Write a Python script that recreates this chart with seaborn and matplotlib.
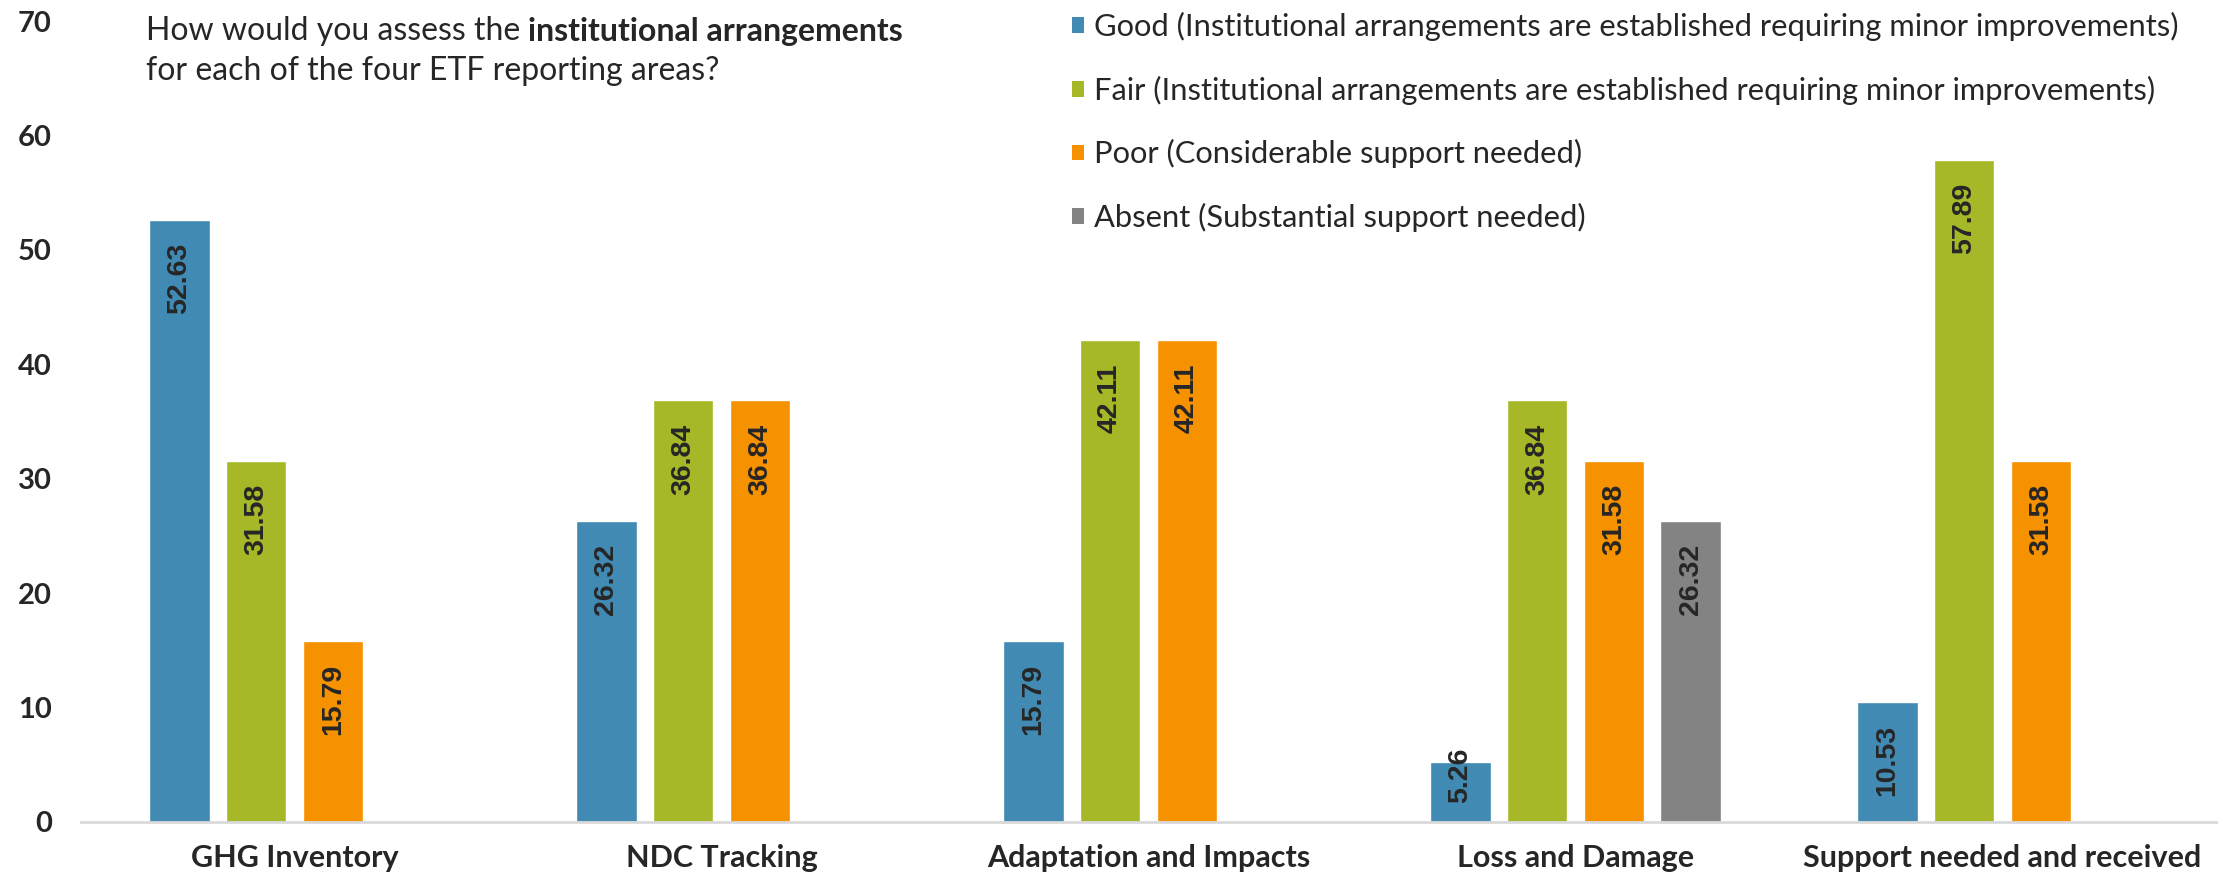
import matplotlib
matplotlib.use('Agg')
import matplotlib.pyplot as plt
import seaborn as sns
import pandas as pd
from matplotlib.patches import Patch

areas = ['GHG Inventory', 'NDC Tracking', 'Adaptation and Impacts',
         'Loss and Damage', 'Support needed and received']
ratings = ['Good (Institutional arrangements are established requiring minor improvements)',
           'Fair (Institutional arrangements are established requiring minor improvements)',
           'Poor (Considerable support needed)',
           'Absent (Substantial support needed)']
good = [52.63, 26.32, 15.79, 5.26, 10.53]
fair = [31.58, 36.84, 42.11, 36.84, 57.89]
poor = [15.79, 36.84, 42.11, 31.58, 31.58]
absent = [None, None, None, 26.32, None]
colors = ['#418AB3', '#A6B727', '#F69200', '#838383']
yticks = [0, 10, 20, 30, 40, 50, 60, 70]

rows = []
for rating, values in zip(ratings, [good, fair, poor, absent]):
    for area, v in zip(areas, values):
        if v is not None:
            rows.append({'area': area, 'rating': rating, 'pct': v})
df = pd.DataFrame(rows)

sns.set_style('white')
plt.rcParams['font.family'] = ['Lato', 'DejaVu Sans']

fig = plt.figure(figsize=(22.23, 8.83), dpi=100)
ax = fig.add_axes([81 / 2223, 1 - 822 / 883, 2135 / 2223, 801 / 883])

sns.barplot(data=df, x='area', y='pct', hue='rating', order=areas, hue_order=ratings,
            palette=colors, saturation=1, width=0.72, gap=0.21, errorbar=None,
            legend=False, ax=ax)

# value labels, rotated, inside the top of each bar
label_font = dict(rotation=90, ha='center', fontsize=20.5, fontweight='bold',
                  family=['Liberation Sans', 'DejaVu Sans'])
for container in ax.containers:
    for bar in container:
        h = bar.get_height()
        if h != h or h == 0:
            continue
        x = bar.get_x() + bar.get_width() / 2
        if h < 8:
            ax.annotate(f'{h:.2f}', xy=(x, 0), xytext=(0, 19), textcoords='offset pixels',
                        va='bottom', **label_font)
        else:
            ax.annotate(f'{h:.2f}', xy=(x, h), xytext=(0, -23), textcoords='offset pixels',
                        va='top', **label_font)

ax.set_xlim(-0.5, 4.5)
ax.set_ylim(0, 70)
ax.set_yticks(yticks)
ax.set_xlabel('')
ax.set_ylabel('')
for s in ['top', 'right', 'left']:
    ax.spines[s].set_visible(False)
ax.spines['bottom'].set_color('#D9D9D9')
ax.spines['bottom'].set_linewidth(2)
ax.tick_params(axis='both', length=0)
ax.tick_params(axis='y', pad=21, labelsize=21)
ax.tick_params(axis='x', pad=16, labelsize=22)
for lab in ax.get_xticklabels() + ax.get_yticklabels():
    lab.set_fontweight('bold')

t1 = fig.text(146 / 2223, 1 - 31 / 883, 'How would you assess the ', fontsize=23, va='center')
ax.annotate('institutional arrangements', xy=(1, 0), xycoords=t1, va='bottom',
            fontsize=23, fontweight='bold', annotation_clip=False)
fig.text(146 / 2223, 1 - 71 / 883, 'for each of the four ETF reporting areas?',
         fontsize=23, va='center')

handles = [Patch(facecolor=c, edgecolor='none') for c in colors]
fig.legend(handles, ratings, loc='upper left', bbox_to_anchor=(1072 / 2223, 1 - 12 / 883),
           frameon=False, fontsize=22.2, handlelength=0.4, handleheight=0.4,
           handletextpad=0.3, labelspacing=1.12, borderaxespad=0, borderpad=0)

plt.savefig('out.png', dpi=100)
plt.close()
